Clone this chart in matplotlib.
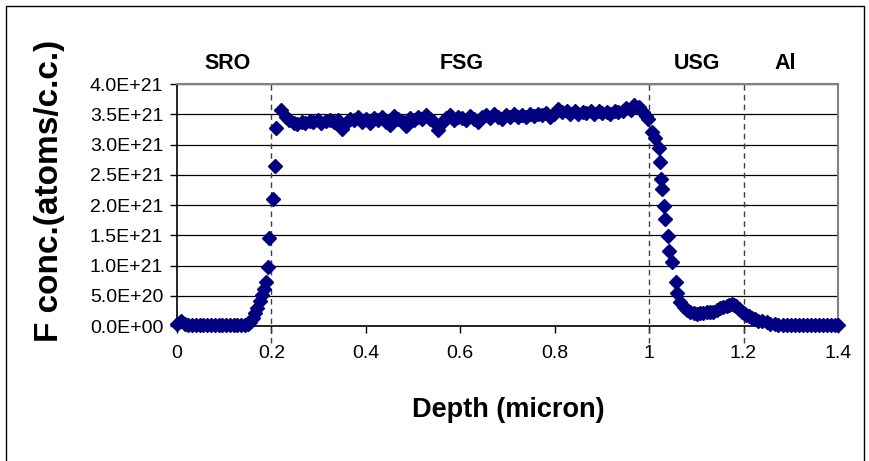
import matplotlib
matplotlib.use("Agg")
from matplotlib import pyplot as plt
from matplotlib.ticker import FuncFormatter, MultipleLocator

plt.rcParams['font.family'] = ['Liberation Sans', 'DejaVu Sans']

# depth in micron, F concentration in units of 1E+21 atoms/c.c.
depth = [
    0.000, 0.008, 0.016, 0.024, 0.032, 0.040, 0.048, 0.056, 0.064, 0.072,
    0.080, 0.088, 0.096, 0.104, 0.112, 0.120, 0.128, 0.136, 0.144, 0.150,
    0.155, 0.160, 0.165, 0.170, 0.175, 0.180, 0.184, 0.188, 0.193, 0.195,
    0.203, 0.207, 0.209, 0.221, 0.230, 0.238, 0.247, 0.255, 0.264, 0.272,
    0.281, 0.289, 0.298, 0.306, 0.315, 0.323, 0.332, 0.340, 0.349, 0.357,
    0.366, 0.374, 0.383, 0.391, 0.400, 0.408, 0.417, 0.425, 0.434, 0.442,
    0.451, 0.459, 0.468, 0.476, 0.485, 0.493, 0.502, 0.510, 0.519, 0.527,
    0.536, 0.544, 0.553, 0.561, 0.570, 0.578, 0.587, 0.595, 0.604, 0.612,
    0.621, 0.629, 0.638, 0.646, 0.655, 0.663, 0.672, 0.680, 0.689, 0.697,
    0.706, 0.714, 0.723, 0.731, 0.740, 0.748, 0.757, 0.765, 0.774, 0.782,
    0.791, 0.799, 0.808, 0.816, 0.825, 0.833, 0.842, 0.850, 0.859, 0.867,
    0.876, 0.884, 0.893, 0.901, 0.910, 0.918, 0.927, 0.935, 0.944, 0.952,
    0.961, 0.969, 0.978, 0.986, 0.993, 0.998, 1.006, 1.013, 1.020, 1.023,
    1.025, 1.028, 1.032, 1.033, 1.039, 1.043, 1.048, 1.057, 1.060, 1.066,
    1.073, 1.080, 1.087, 1.094, 1.101, 1.108, 1.115, 1.122, 1.129, 1.136,
    1.143, 1.150, 1.157, 1.164, 1.170, 1.175, 1.180, 1.185, 1.191, 1.196,
    1.201, 1.206, 1.212, 1.217, 1.224, 1.231, 1.240, 1.249, 1.257, 1.266,
    1.274, 1.283, 1.291, 1.300, 1.308, 1.317, 1.325, 1.334, 1.342, 1.351,
    1.359, 1.368, 1.376, 1.385, 1.393, 1.400,
]
conc = [
    0.04, 0.08, 0.04, 0.02, 0.01, 0.02, 0.01, 0.01, 0.02, 0.01,
    0.02, 0.01, 0.01, 0.02, 0.01, 0.01, 0.02, 0.01, 0.02, 0.03,
    0.06, 0.13, 0.21, 0.30, 0.41, 0.52, 0.62, 0.72, 0.97, 1.45,
    2.10, 2.65, 3.27, 3.57, 3.46, 3.40, 3.36, 3.34, 3.38, 3.35,
    3.39, 3.37, 3.40, 3.36, 3.39, 3.41, 3.38, 3.40, 3.26, 3.35,
    3.43, 3.40, 3.45, 3.38, 3.42, 3.36, 3.44, 3.40, 3.46, 3.37,
    3.33, 3.47, 3.42, 3.39, 3.31, 3.44, 3.40, 3.46, 3.42, 3.48,
    3.43, 3.38, 3.24, 3.36, 3.44, 3.49, 3.41, 3.46, 3.44, 3.40,
    3.47, 3.43, 3.37, 3.45, 3.48, 3.44, 3.50, 3.46, 3.42, 3.49,
    3.45, 3.50, 3.46, 3.48, 3.45, 3.51, 3.47, 3.50, 3.48, 3.52,
    3.46, 3.50, 3.58, 3.54, 3.56, 3.51, 3.55, 3.50, 3.54, 3.52,
    3.56, 3.51, 3.55, 3.52, 3.54, 3.51, 3.56, 3.53, 3.55, 3.60,
    3.57, 3.66, 3.62, 3.54, 3.47, 3.43, 3.21, 3.11, 2.94, 2.71,
    2.43, 2.26, 1.99, 1.77, 1.48, 1.24, 1.05, 0.73, 0.54, 0.40,
    0.31, 0.27, 0.23, 0.21, 0.20, 0.21, 0.22, 0.24, 0.23, 0.24,
    0.27, 0.29, 0.31, 0.33, 0.34, 0.36, 0.35, 0.33, 0.28, 0.24,
    0.21, 0.19, 0.16, 0.14, 0.11, 0.09, 0.08, 0.07, 0.04, 0.03,
    0.02, 0.01, 0.02, 0.01, 0.02, 0.01, 0.02, 0.01, 0.02, 0.01,
    0.02, 0.01, 0.02, 0.01, 0.02, 0.01,
]

boundaries = [0.2, 1.0, 1.2]
layer_names = ['SRO', 'FSG', 'USG', 'Al']
layer_centers = [0.108, 0.602, 1.101, 1.288]

fig = plt.figure(figsize=(8.69, 4.61), dpi=100)
ax = fig.add_axes([0.2037, 0.2928, 0.7606, 0.5249])

ax.plot(depth, conc, linestyle='none', marker='D', markersize=7.5,
        color='#000080', clip_on=False, zorder=5)

ax.set_xlim(0, 1.4)
ax.set_ylim(0, 4.0)
ax.xaxis.set_major_locator(MultipleLocator(0.2))
ax.yaxis.set_major_locator(MultipleLocator(0.5))
ax.xaxis.set_major_formatter(FuncFormatter(lambda v, p: f"{v:g}"))
ax.yaxis.set_major_formatter(FuncFormatter(lambda v, p: f"{v * 1e21:.1E}"))
ax.tick_params(axis='both', direction='out', length=5, width=1, color='black',
               labelsize=14)
ax.tick_params(axis='x', pad=9)
ax.tick_params(axis='y', pad=5)

ax.grid(axis='y', color='black', linewidth=0.9)
ax.set_axisbelow(True)
for side in ['top', 'right']:
    ax.spines[side].set_color('#808080')
    ax.spines[side].set_linewidth(1.5)
for side in ['left', 'bottom']:
    ax.spines[side].set_color('black')
    ax.spines[side].set_linewidth(1.2)

for b in boundaries:
    ax.axvline(b, ymin=-0.07, ymax=1, color='#404040', linewidth=1,
               linestyle=(0, (4, 3)), clip_on=False, zorder=3)

for name, xc in zip(layer_names, layer_centers):
    ax.text(xc, 4.0 + 0.34, name, ha='center', va='center',
            fontsize=15.5, fontweight='bold')

fig.text(0.585, 0.11, 'Depth (micron)', ha='center', va='center',
         fontsize=19.5, fontweight='bold')
fig.text(0.057, 0.585, 'F conc.(atoms/c.c.)', ha='center', va='center',
         rotation=90, fontsize=24, fontweight='bold')

# chart border (bottom edge falls outside the picture)
fig.add_artist(plt.Line2D([6 / 869, 6 / 869, 864 / 869, 864 / 869],
                          [-0.1, 1 - 6 / 461, 1 - 6 / 461, -0.1],
                          color='black', linewidth=1))

fig.savefig('out.png', dpi=100)
